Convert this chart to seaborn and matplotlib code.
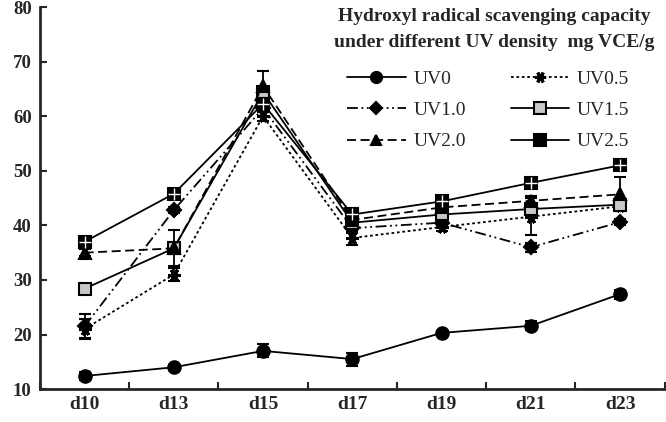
import numpy as np
import pandas as pd
import matplotlib
matplotlib.use("Agg")
import matplotlib.pyplot as plt
from matplotlib.lines import Line2D
import seaborn as sns

days = ["d10", "d13", "d15", "d17", "d19", "d21", "d23"]
series_names = ["UV0", "UV0.5", "UV1.0", "UV1.5", "UV2.0", "UV2.5"]
uv0 = [12.4, 14.0, 17.0, 15.5, 20.3, 21.6, 27.4]
uv05 = [21.0, 31.0, 60.0, 37.7, 39.7, 41.6, 43.5]
uv10 = [21.5, 42.8, 61.5, 39.5, 40.5, 36.0, 40.6]
uv15 = [28.4, 35.8, 64.4, 40.5, 42.0, 43.0, 43.8]
uv20 = [35.0, 35.8, 65.5, 41.0, 43.3, 44.5, 45.7]
uv25 = [37.0, 45.8, 62.3, 42.0, 44.4, 47.8, 51.0]
err0 = [0.7, 0.3, 1.2, 1.2, 0.4, 0.8, 0.8]
err05 = [1.8, 1.2, 0.8, 1.2, 0.8, 3.4, 0.8]
err10 = [2.2, 0.5, 0.8, 0.8, 0.6, 0.8, 0.5]
err15 = [0.8, 3.3, 1.0, 1.0, 0.8, 1.0, 1.0]
err20 = [0.6, 1.0, 2.8, 0.8, 0.8, 0.8, 3.1]
err25 = [0.6, 0.8, 1.0, 0.6, 0.6, 0.8, 0.6]
title_text = "Hydroxyl radical scavenging capacity\nunder different UV density  mg VCE/g"

values = [uv0, uv05, uv10, uv15, uv20, uv25]
errors = [err0, err05, err10, err15, err20, err25]

df = pd.DataFrame({
    "day": days * len(series_names),
    "val": sum(values, []),
    "err": sum(errors, []),
    "series": np.repeat(series_names, len(days)),
})

sns.set_style("ticks")
plt.rcParams["font.family"] = ["Liberation Serif", "DejaVu Serif"]

fig = plt.figure(figsize=(6.66, 4.22), dpi=100)
ax = fig.add_axes([0.060, 0.078, 0.938, 0.905])

dash_map = {
    "UV0": "",
    "UV0.5": (1.5, 1.5),
    "UV1.0": (6, 2, 1, 2, 1, 2),
    "UV1.5": "",
    "UV2.0": (5, 2.5),
    "UV2.5": "",
}
marker_map = {"UV0": "o", "UV0.5": (6, 2, 30), "UV1.0": "D", "UV1.5": "s", "UV2.0": "^", "UV2.5": "s"}
size_map = {"UV0": 9, "UV0.5": 9, "UV1.0": 7, "UV1.5": 9, "UV2.0": 8, "UV2.5": 9}
mew_map = {"UV0": 1.5, "UV0.5": 2.2, "UV1.0": 1.5, "UV1.5": 1.5, "UV2.0": 1.5, "UV2.5": 1.5}
face_map = {"UV0": "black", "UV0.5": "black", "UV1.0": "black", "UV1.5": "#c8c8c8",
            "UV2.0": "black", "UV2.5": "black"}

for name in series_names:
    sub = df[df["series"] == name]
    sns.lineplot(data=sub, x="day", y="val", ax=ax, color="black", lw=1.3,
                 marker=marker_map[name], markersize=size_map[name],
                 markerfacecolor=face_map[name], markeredgecolor="black",
                 markeredgewidth=mew_map[name], legend=False, zorder=3)
    line = ax.lines[-1]
    if dash_map[name]:
        line.set_dashes(dash_map[name])
    ax.errorbar(np.arange(len(days)), sub["val"], yerr=sub["err"], fmt="none",
                ecolor="black", elinewidth=1.3, capsize=4, capthick=1.5, zorder=2)
    if name == "UV2.5":
        ax.plot(np.arange(len(days)), sub["val"], linestyle="none", marker="+",
                markersize=9, markeredgecolor="white", markeredgewidth=1.0, zorder=4)

ax.set_xlim(-0.5, 6.5)
ax.set_ylim(10, 80)
ax.set_yticks(np.arange(10, 81, 10))
ax.set_xticks(np.arange(len(days)))
ax.set_xticklabels(days, fontsize=14, fontweight="bold")
ax.set_xticks(np.arange(-0.5, 7, 1), minor=True)
ax.tick_params(axis="x", which="major", length=0, pad=5)
ax.tick_params(axis="x", which="minor", direction="in", length=5, width=1.5)
ax.tick_params(axis="y", direction="in", length=5, width=1.5, labelsize=13.5, pad=6)
for lab in ax.get_yticklabels():
    lab.set_fontweight("bold")
ax.set_xlabel("")
ax.set_ylabel("")
sns.despine(ax=ax)
ax.spines["left"].set_linewidth(2)
ax.spines["bottom"].set_linewidth(2)

ax.text(0.728, 0.997, title_text, transform=ax.transAxes, ha="center", va="top",
        fontsize=14, fontweight="bold", linespacing=1.65, multialignment="center")

order = ["UV0", "UV1.0", "UV2.0", "UV0.5", "UV1.5", "UV2.5"]
leg_handles = []
for name in order:
    h = Line2D([], [], color="black", lw=1.3, marker=marker_map[name],
               markersize=size_map[name] - 1, markerfacecolor=face_map[name],
               markeredgecolor="black", markeredgewidth=mew_map[name])
    if dash_map[name]:
        h.set_dashes(dash_map[name])
    leg_handles.append(h)
ax.legend(leg_handles, order, ncol=2, loc="upper left", bbox_to_anchor=(0.47, 0.87),
          frameon=False, fontsize=14, handlelength=3.0, columnspacing=2.3,
          labelspacing=0.7, handletextpad=0.4, borderpad=0.2)

fig.savefig("out.png", dpi=100)
